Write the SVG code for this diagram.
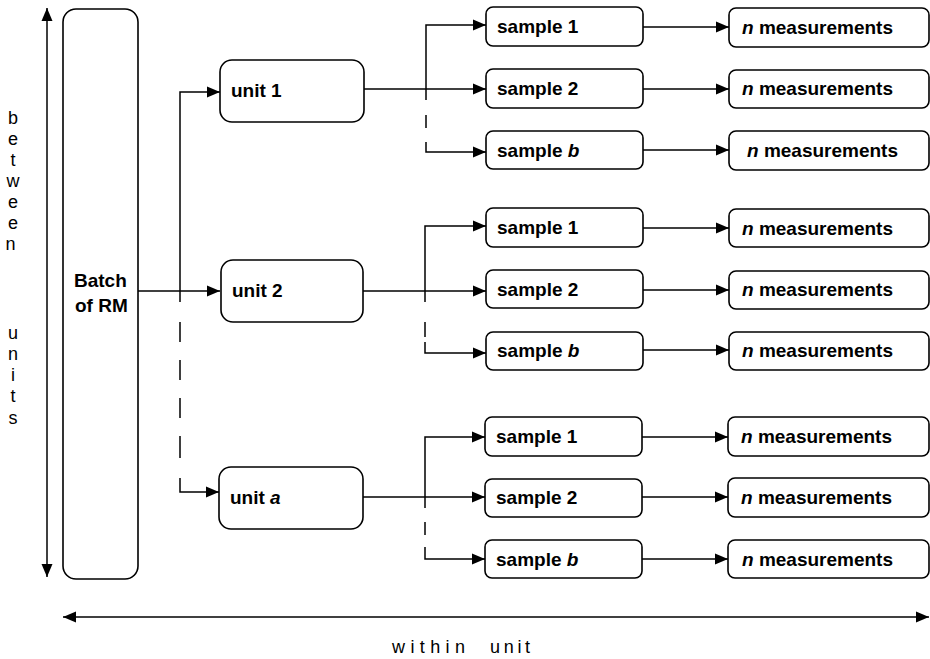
<svg xmlns="http://www.w3.org/2000/svg" width="930" height="659" viewBox="0 0 930 659">
<defs>
<marker id="ah" markerUnits="userSpaceOnUse" markerWidth="14" markerHeight="12" refX="13" refY="6" orient="auto-start-reverse">
<path d="M0,0.5 L13,6 L0,11.5 z" fill="#000"/>
</marker>
<style>
.box{fill:#fff;stroke:#000;stroke-width:1.6}
.t{font-family:"Liberation Sans",Arial,sans-serif;font-size:19px;font-weight:bold;fill:#000}
.r{font-family:"Liberation Sans",Arial,sans-serif;font-size:18px;fill:#000}
.c{fill:none;stroke:#000;stroke-width:1.5}
.a{marker-end:url(#ah)}
</style>
</defs>
<rect width="930" height="659" fill="#fff"/>

<g id="connectors">
<path class="c" d="M47,8 V577" marker-start="url(#ah)" marker-end="url(#ah)"/>
<path class="c" d="M63,617 H929" marker-start="url(#ah)" marker-end="url(#ah)"/>
<path class="c a" d="M138,291 H220"/>
<path class="c a" d="M180,302 V92 H220"/>
<path class="c" d="M180,322 V342 M180,360 V380 M180,398 V418 M180,436 V458"/>
<path class="c a" d="M180,478 V492 H219"/>

<path class="c a" d="M364,89 H486"/>
<path class="c a" d="M426,100 V25 H486"/>
<path class="c" d="M426,115 V128"/>
<path class="c a" d="M426,142 V152 H486"/>

<path class="c a" d="M363,291 H486"/>
<path class="c a" d="M425,302 V226 H486"/>
<path class="c" d="M425,322 V337"/>
<path class="c a" d="M425,342 V353 H486"/>

<path class="c a" d="M363,497 H485"/>
<path class="c a" d="M425,508 V437 H485"/>
<path class="c" d="M425,522 V535"/>
<path class="c a" d="M425,547 V559 H485"/>

<path class="c a" d="M643,27 H729"/>
<path class="c a" d="M643,89 H729"/>
<path class="c a" d="M643,150 H729"/>
<path class="c a" d="M643,228 H729"/>
<path class="c a" d="M643,290 H729"/>
<path class="c a" d="M643,350 H729"/>
<path class="c a" d="M642,437 H728"/>
<path class="c a" d="M642,497 H728"/>
<path class="c a" d="M642,559 H728"/>
</g>

<g id="batch">
<rect class="box" x="63" y="9" width="75" height="570" rx="13"/>
<text class="t" x="74" y="287">Batch</text>
<text class="t" x="75" y="312">of RM</text>
</g>

<g id="unit1"><rect class="box" x="220" y="60" width="144" height="62" rx="12"/><text class="t" x="231" y="97">unit 1</text></g>
<g id="unit2"><rect class="box" x="221" y="260" width="142" height="62" rx="12"/><text class="t" x="232" y="297">unit 2</text></g>
<g id="unita"><rect class="box" x="219" y="467" width="144" height="62" rx="12"/><text class="t" x="230" y="504">unit <tspan font-style="italic">a</tspan></text></g>

<g id="g1s1"><rect class="box" x="486" y="7" width="157" height="39" rx="7"/><text class="t" x="497" y="33">sample 1</text></g>
<g id="g1s2"><rect class="box" x="486" y="69" width="157" height="39" rx="7"/><text class="t" x="497" y="95">sample 2</text></g>
<g id="g1sb"><rect class="box" x="486" y="131" width="157" height="38" rx="7"/><text class="t" x="497" y="157">sample <tspan font-style="italic">b</tspan></text></g>
<g id="g1m1"><rect class="box" x="729" y="8" width="200" height="39" rx="7"/><text class="t" x="742" y="34"><tspan font-style="italic">n</tspan> measurements</text></g>
<g id="g1m2"><rect class="box" x="729" y="70" width="200" height="38" rx="7"/><text class="t" x="742" y="95"><tspan font-style="italic">n</tspan> measurements</text></g>
<g id="g1mb"><rect class="box" x="729" y="131" width="200" height="39" rx="7"/><text class="t" x="747" y="157"><tspan font-style="italic">n</tspan> measurements</text></g>

<g id="g2s1"><rect class="box" x="486" y="208" width="157" height="39" rx="7"/><text class="t" x="497" y="234">sample 1</text></g>
<g id="g2s2"><rect class="box" x="486" y="270" width="157" height="38" rx="7"/><text class="t" x="497" y="296">sample 2</text></g>
<g id="g2sb"><rect class="box" x="486" y="332" width="157" height="38" rx="7"/><text class="t" x="497" y="357">sample <tspan font-style="italic">b</tspan></text></g>
<g id="g2m1"><rect class="box" x="729" y="209" width="200" height="38" rx="7"/><text class="t" x="742" y="235"><tspan font-style="italic">n</tspan> measurements</text></g>
<g id="g2m2"><rect class="box" x="729" y="271" width="200" height="38" rx="7"/><text class="t" x="742" y="296"><tspan font-style="italic">n</tspan> measurements</text></g>
<g id="g2mb"><rect class="box" x="729" y="332" width="200" height="38" rx="7"/><text class="t" x="742" y="357"><tspan font-style="italic">n</tspan> measurements</text></g>

<g id="g3s1"><rect class="box" x="485" y="417" width="157" height="39" rx="7"/><text class="t" x="496" y="443">sample 1</text></g>
<g id="g3s2"><rect class="box" x="485" y="479" width="157" height="38" rx="7"/><text class="t" x="496" y="504">sample 2</text></g>
<g id="g3sb"><rect class="box" x="485" y="540" width="157" height="38" rx="7"/><text class="t" x="496" y="566">sample <tspan font-style="italic">b</tspan></text></g>
<g id="g3m1"><rect class="box" x="728" y="417" width="201" height="39" rx="7"/><text class="t" x="741" y="443"><tspan font-style="italic">n</tspan> measurements</text></g>
<g id="g3m2"><rect class="box" x="728" y="478" width="201" height="39" rx="7"/><text class="t" x="741" y="504"><tspan font-style="italic">n</tspan> measurements</text></g>
<g id="g3mb"><rect class="box" x="728" y="540" width="201" height="38" rx="7"/><text class="t" x="742" y="566"><tspan font-style="italic">n</tspan> measurements</text></g>

<g id="labels">
<text class="r" text-anchor="middle">
<tspan x="13" y="124">b</tspan><tspan x="13" y="145">e</tspan><tspan x="13" y="166">t</tspan><tspan x="13" y="187">w</tspan><tspan x="13" y="208">e</tspan><tspan x="13" y="229">e</tspan><tspan x="13" y="250">n</tspan>
<tspan x="13" y="339">u</tspan><tspan x="13" y="360">n</tspan><tspan x="13" y="381">i</tspan><tspan x="13" y="402">t</tspan><tspan x="13" y="424">s</tspan>
</text>
<text class="r" x="392" y="653" letter-spacing="5.4">within</text>
<text class="r" x="490" y="653" letter-spacing="3.7">unit</text>
</g>
</svg>
